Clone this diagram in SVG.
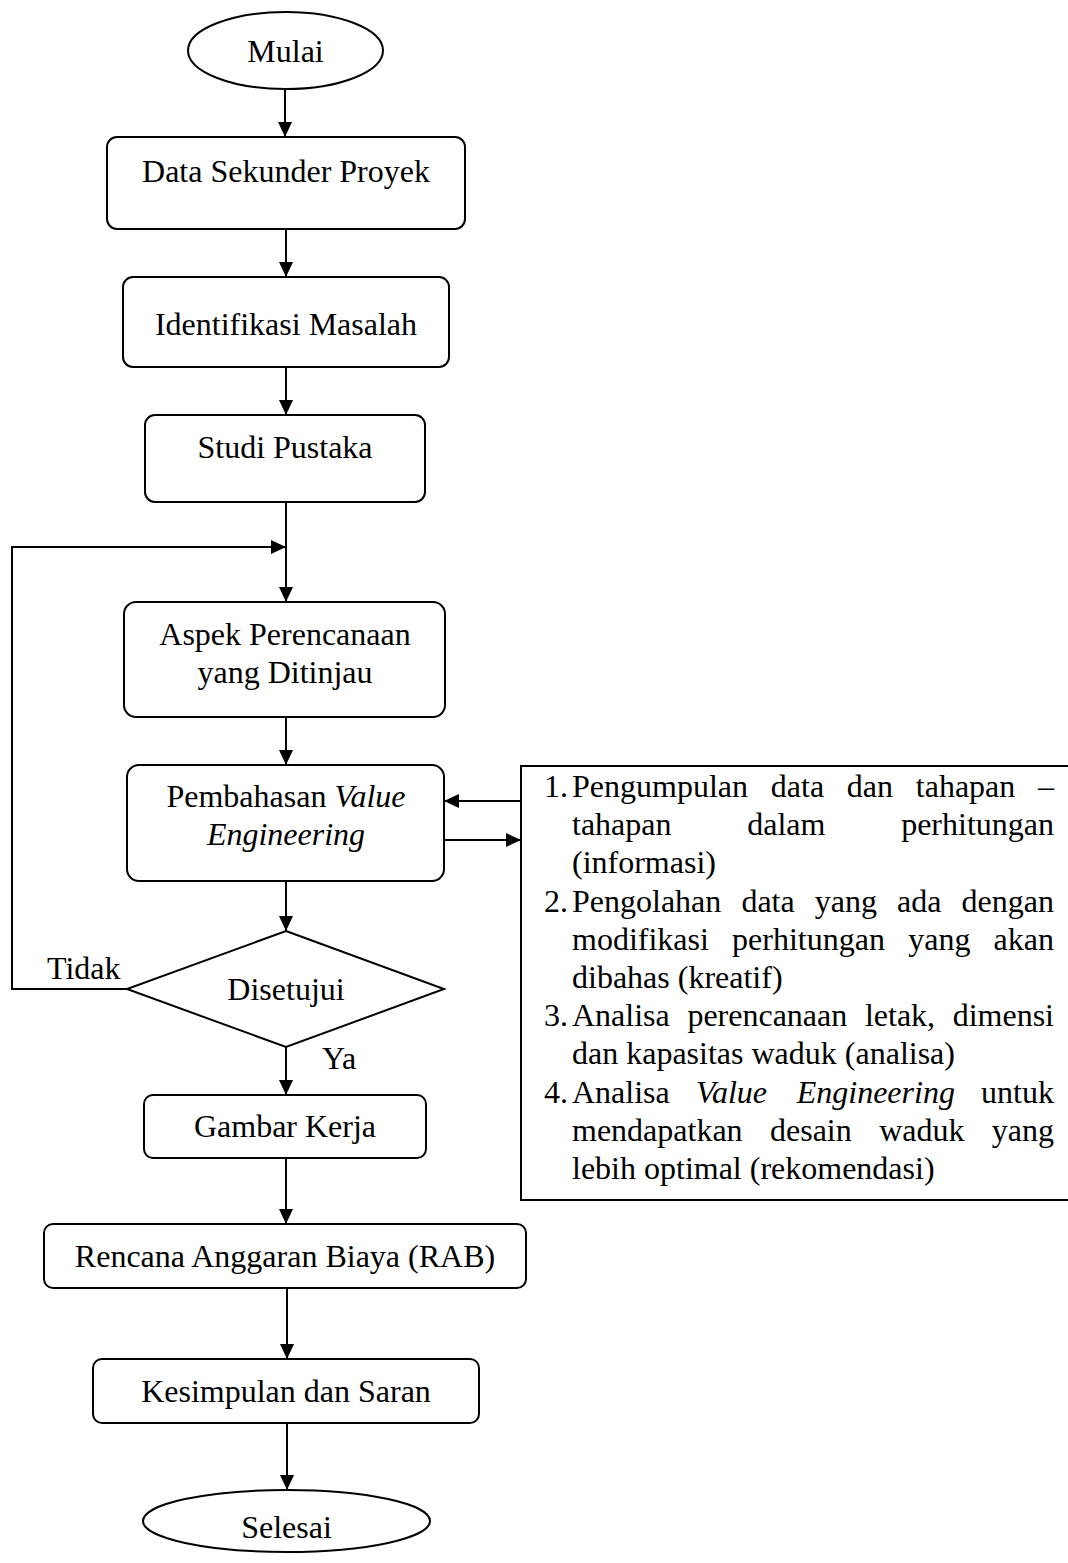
<svg xmlns="http://www.w3.org/2000/svg" width="1068" height="1563" viewBox="0 0 1068 1563">
<defs>
<style>
text{font-family:"Liberation Serif","Times New Roman",serif;font-size:32px;fill:#000}
.c{text-anchor:middle}
.e{text-anchor:end}
.i{font-style:italic}
.shape{fill:#fff;stroke:#000;stroke-width:2}
.ln{fill:none;stroke:#000;stroke-width:2}
</style>
<marker id="ah" markerUnits="userSpaceOnUse" markerWidth="16" markerHeight="14" refX="15" refY="7" orient="auto">
<path d="M0,0 L15,7 L0,14 z" fill="#000"/>
</marker>
</defs>
<rect width="1068" height="1563" fill="#fff"/>

<g id="connectors">
<line class="ln" x1="285" y1="89" x2="285" y2="137" marker-end="url(#ah)"/>
<line class="ln" x1="286" y1="229" x2="286" y2="277" marker-end="url(#ah)"/>
<line class="ln" x1="286" y1="367" x2="286" y2="415" marker-end="url(#ah)"/>
<line class="ln" x1="286" y1="502" x2="286" y2="602" marker-end="url(#ah)"/>
<path class="ln" d="M127,989 H12 V547 H286" marker-end="url(#ah)"/>
<line class="ln" x1="286" y1="717" x2="286" y2="765" marker-end="url(#ah)"/>
<line class="ln" x1="286" y1="881" x2="286" y2="931" marker-end="url(#ah)"/>
<line class="ln" x1="521" y1="801" x2="444" y2="801" marker-end="url(#ah)"/>
<line class="ln" x1="444" y1="840" x2="521" y2="840" marker-end="url(#ah)"/>
<line class="ln" x1="286" y1="1047" x2="286" y2="1095" marker-end="url(#ah)"/>
<line class="ln" x1="286" y1="1158" x2="286" y2="1224" marker-end="url(#ah)"/>
<line class="ln" x1="287" y1="1288" x2="287" y2="1359" marker-end="url(#ah)"/>
<line class="ln" x1="287" y1="1423" x2="287" y2="1490" marker-end="url(#ah)"/>
<text x="47" y="979">Tidak</text>
<text x="322" y="1069">Ya</text>
</g>

<g id="mulai">
<ellipse class="shape" cx="285.5" cy="50.5" rx="97.5" ry="38.5"/>
<text class="c" x="285.5" y="62">Mulai</text>
</g>

<g id="data-sekunder">
<rect class="shape" x="107" y="137" width="358" height="92" rx="10"/>
<text class="c" x="286" y="182">Data Sekunder Proyek</text>
</g>

<g id="identifikasi">
<rect class="shape" x="123" y="277" width="326" height="90" rx="10"/>
<text class="c" x="286" y="335">Identifikasi Masalah</text>
</g>

<g id="studi-pustaka">
<rect class="shape" x="145" y="415" width="280" height="87" rx="10"/>
<text class="c" x="285" y="458">Studi Pustaka</text>
</g>

<g id="aspek">
<rect class="shape" x="124" y="602" width="321" height="115" rx="12"/>
<text class="c" x="285" y="645">Aspek Perencanaan</text>
<text class="c" x="285" y="683">yang Ditinjau</text>
</g>

<g id="pembahasan">
<rect class="shape" x="127" y="765" width="317" height="116" rx="12"/>
<text class="c" x="286" y="807">Pembahasan <tspan class="i">Value</tspan></text>
<text class="c i" x="286" y="845">Engineering</text>
</g>

<g id="disetujui">
<polygon class="shape" points="286,931 444,989 286,1047 127,989"/>
<text class="c" x="286" y="1000">Disetujui</text>
</g>

<g id="list">
<rect class="shape" x="521" y="766" width="560" height="434"/>
<text x="544" y="797">1.</text>
<text y="797"><tspan x="572">Pengumpulan</tspan><tspan x="770.8">data</tspan><tspan x="846.8">dan</tspan><tspan x="915.8">tahapan</tspan></text>
<text class="e" x="1054" y="797">–</text>
<text y="835.2"><tspan x="572">tahapan</tspan><tspan x="747.2">dalam</tspan></text>
<text class="e" x="1054" y="835.2">perhitungan</text>
<text x="572" y="873.4">(informasi)</text>
<text x="544" y="911.6">2.</text>
<text y="911.6"><tspan x="572">Pengolahan</tspan><tspan x="741.4">data</tspan><tspan x="814.8">yang</tspan><tspan x="897.1">ada</tspan></text>
<text class="e" x="1054" y="911.6">dengan</text>
<text y="949.8"><tspan x="572">modifikasi</tspan><tspan x="732.1">perhitungan</tspan><tspan x="908.2">yang</tspan></text>
<text class="e" x="1054" y="949.8">akan</text>
<text x="572" y="988">dibahas (kreatif)</text>
<text x="544" y="1026.2">3.</text>
<text y="1026.2"><tspan x="572">Analisa</tspan><tspan x="687.4">perencanaan</tspan><tspan x="864.9">letak,</tspan></text>
<text class="e" x="1054" y="1026.2">dimensi</text>
<text x="572" y="1064.4">dan kapasitas waduk (analisa)</text>
<text x="544" y="1102.6">4.</text>
<text y="1102.6"><tspan x="572">Analisa</tspan><tspan class="i" x="695.9">Value</tspan><tspan class="i" x="796.7">Engineering</tspan></text>
<text class="e" x="1054" y="1102.6">untuk</text>
<text y="1140.8"><tspan x="572">mendapatkan</tspan><tspan x="770">desain</tspan><tspan x="879.2">waduk</tspan></text>
<text class="e" x="1054" y="1140.8">yang</text>
<text x="572" y="1179">lebih optimal (rekomendasi)</text>
</g>

<g id="gambar-kerja">
<rect class="shape" x="144" y="1095" width="282" height="63" rx="9"/>
<text class="c" x="285" y="1137">Gambar Kerja</text>
</g>

<g id="rab">
<rect class="shape" x="44" y="1224" width="482" height="64" rx="9"/>
<text class="c" x="285" y="1267">Rencana Anggaran Biaya (RAB)</text>
</g>

<g id="kesimpulan">
<rect class="shape" x="93" y="1359" width="386" height="64" rx="9"/>
<text class="c" x="286" y="1402">Kesimpulan dan Saran</text>
</g>

<g id="selesai">
<ellipse class="shape" cx="286.5" cy="1521" rx="143.5" ry="31"/>
<text class="c" x="286.5" y="1538">Selesai</text>
</g>
</svg>
